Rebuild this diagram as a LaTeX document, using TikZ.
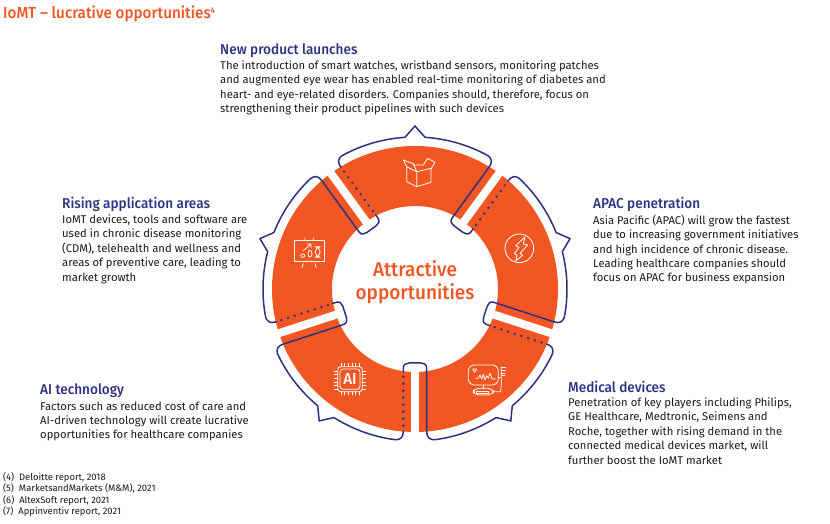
\documentclass[tikz,border=0pt]{standalone}
\usepackage{fontspec}
\setmainfont{Fira Sans}
\newfontfamily\fmed[FakeStretch=0.95]{Fira Sans Medium}
\definecolor{ora}{HTML}{F25623}
\definecolor{nav}{HTML}{2C3183}
\definecolor{bod}{HTML}{1A1A1A}
\tikzset{
  pix/.style={shift={(0,524)},yscale=-1},
  head/.style={anchor=west,inner sep=0,text=nav,font=\fontsize{14.3}{15}\selectfont\fmed},
  body/.style={anchor=north west,inner sep=0,align=left,text=bod,font=\fontsize{11.25}{14.4}\selectfont},
  foot/.style={anchor=north west,inner sep=0,align=left,text=bod,font=\fontsize{9.4}{11.6}\selectfont},
  outl/.style={draw=nav,line width=1.5pt,line join=round,line cap=round},
  mydots/.style={draw=nav,line width=2.8pt,line cap=round,dash pattern=on 0pt off 7pt},
  ico/.style={draw=white,line width=0.8pt,line join=round,line cap=round},
}
\begin{document}
\begin{tikzpicture}[x=1pt,y=1pt]
\useasboundingbox (0,0) rectangle (830,524);
\begin{scope}[shift={(415,235)}]
  \fill[ora,even odd rule] (0,0) circle[radius=143] (0,0) circle[radius=83];
  \foreach \a in {0,72,144,216,288}{
    \begin{scope}[rotate=\a]
      \fill[white] (-4,-148) rectangle (4,-78);
    \end{scope}
  }
  \foreach \a in {0,72,144,216,288}{
    \begin{scope}[rotate=\a]
      % from the tip of the left segment, round the gap, to the tip of the right segment
      \draw[outl] (-126:163) -- (-122.2:152) arc[start angle=-122.2,end angle=-98,radius=152]
        .. controls (-14,-151.5) and (-11.7,-148) .. (-11.7,-142);
      \draw[mydots] (-11.7,-136.7) -- (-11.7,-87);
      \draw[outl] (-11.7,-83) -- (-11.7,-79) .. controls (-11.7,-75.5) and (-9,-74) .. (-6,-74)
        -- (6,-74) .. controls (9,-74) and (11.7,-75.5) .. (11.7,-79)
        -- (11.7,-142) .. controls (11.7,-148) and (14,-151.5) .. (-82:152)
        arc[start angle=-82,end angle=-57.8,radius=152] -- (-54:163);
    \end{scope}
  }
\end{scope}
% ---- icons
\begin{scope}[pix]
  \begin{scope}[shift={(260,120)},scale=1/3]
    \draw[ico] (440,140)--(470,155)--(513,145)--(513,187)--(470,200)--(440,185)--cycle (470,155)--(470,200);
    \draw[ico] (440,140)--(430,120)--(460,131)--(470,155) (460,135)--(490,135);
    \draw[ico] (513,147)--(525,127)--(503,115)--(490,135);
    \draw[ico] (102,362) rectangle (192,425);
    \draw[ico] (135,354)--(135,362) (160,354)--(160,362) (130,431)--(126,443) (165,431)--(169,443);
    \draw[ico] (128,407) ellipse[x radius=6,y radius=5] (150,401) ellipse[x radius=6,y radius=10];
    \draw[ico,rounded corners=5] (166,380) rectangle (180,412);
    \draw[ico] (130,392)--(153,372) (141,372)--(153,372)--(153,384);
  \end{scope}
  \begin{scope}[shift={(495,225)},scale=1/3]
    \draw[ico] (73,70) circle[radius=43];
    \draw[ico] (90,36)--(62,62)--(72,67)--(58,86)--(66,90)--(62,108)--(83,90)--(75,85)--(98,60)--(85,57)--cycle;
  \end{scope}
  \begin{scope}[shift={(460,355)},scale=1/3]
    \draw[ico,rounded corners=6] (25,30) rectangle (115,90);
    \draw[ico] (38,42)--(50,42)--(44,52)--cycle;
    \draw[ico] (47,70)--(55,70)--(60,60)--(65,72)--(70,58)--(75,75)--(80,62)--(85,70)--(90,55)--(97,72)--(107,72);
    \draw[ico] (70,90)--(70,100);
    \draw[ico,rounded corners=5] (40,100) rectangle (100,120);
    \draw[ico] (50,108) rectangle (85,114);
    \draw[ico] (115,68)--(124,68) (100,110)--(122,110)--(124,85)--(124,36);
    \draw[ico] (124,36)--(137,36) (124,46)--(137,46) (124,54)--(135,54) (124,62)--(135,62);
  \end{scope}
  \begin{scope}[shift={(325,355)},scale=1/3]
    \draw[ico,rounded corners=3] (38,35) rectangle (112,110);
    \draw[ico,rounded corners=3] (45,42) rectangle (105,103);
    \foreach \p in {48,59,70,81,92,102}{
      \draw[ico] (\p,25)--(\p,35) (\p,110)--(\p,120) (28,\p)--(38,\p) (112,\p)--(122,\p);
    }
  \end{scope}
  \node[inner sep=0,text=white,font=\fontsize{16}{16}\selectfont\fmed] (ailab) at (350,379) {AI};
  % ---- texts
  \node[anchor=west,inner sep=0,text=ora,font=\fontsize{16}{15}\selectfont\fmed] (title) at (3,13.5) {IoMT – lucrative opportunities\raisebox{4.5pt}{\fontsize{8.5}{8.5}\selectfont 4}};
  \node[inner sep=0,align=center,text=ora,font=\fontsize{20}{22.5}\selectfont\fmed] (centre) at (415,282) {Attractive\\opportunities};

  \node[head] (h1) at (220,50.5) {New product launches};
  \node[body] (b1) at (220,60.5) {The introduction of smart watches, wristband sensors, monitoring patches\\and augmented eye wear has enabled real-time monitoring of diabetes and\\heart- and eye-related disorders. Companies should, therefore, focus on\\strengthening their product pipelines with such devices};

  \node[head] (h2) at (62,204.5) {Rising application areas};
  \node[body] (b2) at (62,214.5) {IoMT devices, tools and software are\\used in chronic disease monitoring\\(CDM), telehealth and wellness and\\areas of preventive care, leading to\\market growth};

  \node[head] (h3) at (593,204.5) {APAC penetration};
  \node[body] (b3) at (593,214.5) {Asia Pacific (APAC) will grow the fastest\\due to increasing government initiatives\\and high incidence of chronic disease.\\Leading healthcare companies should\\focus on APAC for business expansion};

  \node[head] (h4) at (40,390.5) {AI technology};
  \node[body] (b4) at (40,401.5) {Factors such as reduced cost of care and\\AI-driven technology will create lucrative\\opportunities for healthcare companies};

  \node[head] (h5) at (568,386.5) {Medical devices};
  \node[body] (b5) at (568,397.5) {Penetration of key players including Philips,\\GE Healthcare, Medtronic, Seimens and\\Roche, together with rising demand in the\\connected medical devices market, will\\further boost the IoMT market};

  \node[foot] (f) at (3,472) {(4)\ \ Deloitte report, 2018\\(5)\ \ MarketsandMarkets (M\&M), 2021\\(6)\ \ AltexSoft report, 2021\\(7)\ \ Appinventiv report, 2021};
\end{scope}
\end{tikzpicture}
\end{document}
